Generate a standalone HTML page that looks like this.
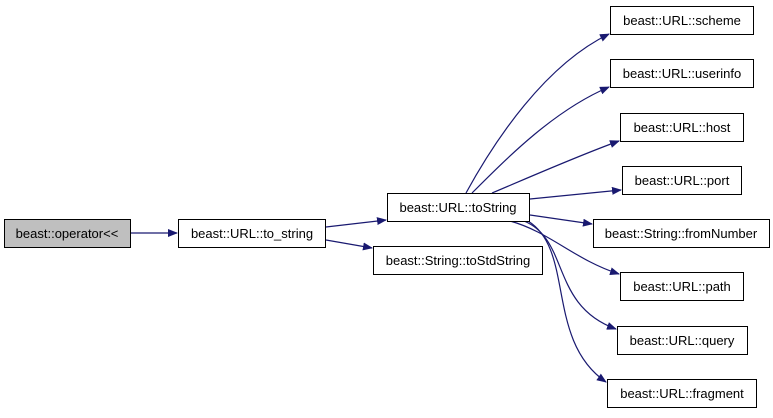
<!DOCTYPE html>
<html><head><meta charset="utf-8"><style>
html,body{margin:0;padding:0;background:#fff;}
svg text{font-family:"Liberation Sans",Helvetica,sans-serif;font-size:13px;fill:#000;}
</style></head><body>
<svg width="773" height="413" viewBox="0 0 773 413" xmlns="http://www.w3.org/2000/svg">
<defs><marker id="a" markerWidth="10" markerHeight="8" refX="9" refY="4" orient="auto" markerUnits="userSpaceOnUse"><path d="M0,0 L10,4 L0,8 Z" fill="#191970"/></marker></defs>
<g fill="none" stroke="#191970" stroke-width="1.2" marker-end="url(#a)">
<path d="M131,233 L177,233"/>
<path d="M326,227 L386,220"/>
<path d="M326,240 L372,248"/>
<path d="M466,193 C495,140 545,65 609,34"/>
<path d="M472,193 C510,155 555,110 609,87"/>
<path d="M492,193 C530,177 580,155 619,141"/>
<path d="M530,199 L621,190"/>
<path d="M530,215 L592,224"/>
<path d="M510,221 C550,232 575,260 619,274"/>
<path d="M524,221 C570,240 550,305 616,329"/>
<path d="M528,221 C575,250 545,340 606,382"/>
</g>
<g stroke-width="1">
<rect x="4.5" y="219.5" width="126" height="28" fill="#bfbfbf" stroke="#000"/>
<rect x="178.5" y="219.5" width="147" height="28" fill="#fff" stroke="#000"/>
<rect x="387.5" y="193.5" width="142" height="28" fill="#fff" stroke="#000"/>
<rect x="373.5" y="246.5" width="169" height="28" fill="#fff" stroke="#000"/>
<rect x="610.5" y="6.5" width="143" height="28" fill="#fff" stroke="#000"/>
<rect x="610.5" y="59.5" width="143" height="28" fill="#fff" stroke="#000"/>
<rect x="620.5" y="113.5" width="123" height="28" fill="#fff" stroke="#000"/>
<rect x="622.5" y="166.5" width="119" height="28" fill="#fff" stroke="#000"/>
<rect x="593.5" y="219.5" width="176" height="28" fill="#fff" stroke="#000"/>
<rect x="620.5" y="272.5" width="123" height="28" fill="#fff" stroke="#000"/>
<rect x="617.5" y="326.5" width="130" height="28" fill="#fff" stroke="#000"/>
<rect x="607.5" y="379.5" width="149" height="28" fill="#fff" stroke="#000"/>
</g>
<g text-anchor="middle">
<text x="67" y="238">beast::operator&lt;&lt;</text>
<text x="252" y="238">beast::URL::to_string</text>
<text x="458" y="212">beast::URL::toString</text>
<text x="458" y="265">beast::String::toStdString</text>
<text x="682" y="25">beast::URL::scheme</text>
<text x="682" y="78">beast::URL::userinfo</text>
<text x="682" y="132">beast::URL::host</text>
<text x="682" y="185">beast::URL::port</text>
<text x="681" y="238">beast::String::fromNumber</text>
<text x="682" y="291">beast::URL::path</text>
<text x="682" y="345">beast::URL::query</text>
<text x="682" y="398">beast::URL::fragment</text>
</g>
</svg>
</body></html>
